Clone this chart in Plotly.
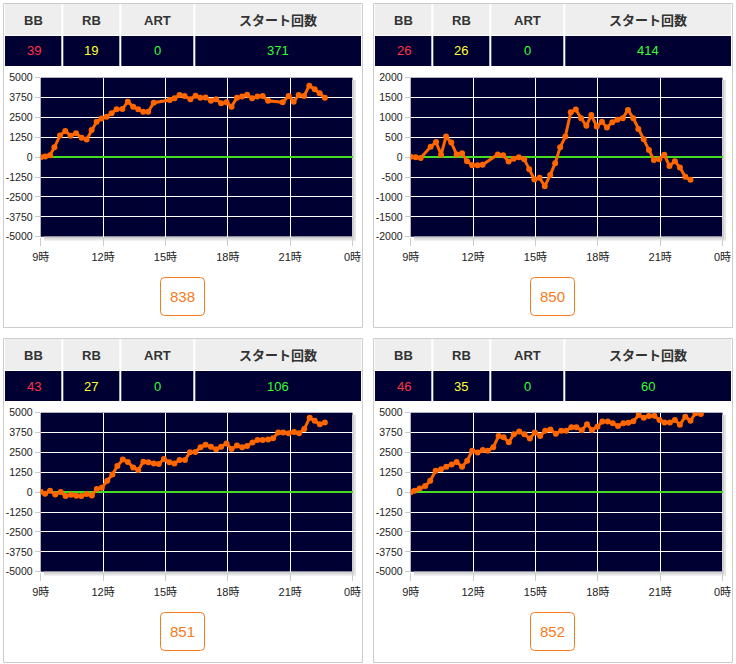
import plotly.graph_objects as go

W, H = 736, 664

# ---------------- data ----------------
header_labels = ["BB", "RB", "ART", "スタート回数"]
bb_counts = [39, 26, 43, 46]
rb_counts = [19, 26, 27, 35]
art_counts = [0, 0, 0, 0]
start_counts = [371, 414, 106, 60]
machine_numbers = [838, 850, 851, 852]

time_tick_vals = [9, 12, 15, 18, 21, 24]
time_tick_labels = ["9時", "12時", "15時", "18時", "21時", "0時"]
y_ticks_5000 = [5000, 3750, 2500, 1250, 0, -1250, -2500, -3750, -5000]
y_ticks_2000 = [2000, 1500, 1000, 500, 0, -500, -1000, -1500, -2000]

t_838 = [9.00, 9.21, 9.45, 9.66, 9.93, 10.18, 10.44, 10.70, 10.97, 11.21, 11.45, 11.69, 11.93,
         12.17, 12.41, 12.65, 12.93, 13.19, 13.45, 13.69, 13.93, 14.17, 14.44, 15.21, 15.44,
         15.68, 15.92, 16.20, 16.45, 16.68, 16.93, 17.19, 17.44, 17.68, 17.94, 18.18, 18.44,
         18.69, 18.93, 19.17, 19.43, 19.68, 19.94, 20.64, 20.93, 21.17, 21.41, 21.67, 21.92,
         22.18, 22.42, 22.67]
v_838 = [0, 50, 130, 620, 1370, 1650, 1350, 1500, 1230, 1120, 1710, 2230, 2440,
         2550, 2760, 3010, 3030, 3490, 3180, 3010, 2860, 2860, 3430, 3600, 3700,
         3910, 3850, 3640, 3870, 3740, 3760, 3550, 3640, 3390, 3450, 3180, 3740,
         3810, 3930, 3700, 3810, 3850, 3550, 3450, 3850, 3490, 3910, 3850, 4500,
         4270, 4020, 3740]

t_850 = [9.00, 9.24, 9.48, 9.96, 10.22, 10.46, 10.70, 10.95, 11.21, 11.47, 11.71, 11.96,
         12.22, 12.46, 13.19, 13.45, 13.71, 13.95, 14.20, 14.46, 14.70, 14.95, 15.20, 15.45,
         15.71, 15.95, 16.19, 16.44, 16.70, 16.94, 17.20, 17.45, 17.69, 17.95, 18.20, 18.44,
         18.70, 18.94, 19.20, 19.45, 19.71, 19.95, 20.21, 20.46, 20.70, 20.96, 21.20, 21.45,
         21.71, 21.95, 22.21, 22.46]
v_850 = [10, 0, -20, 260, 380, 60, 520, 370, 70, 100, -100, -200,
         -200, -190, 70, 50, -110, -40, 0, -50, -300, -560, -520, -730,
         -450, -150, 250, 520, 1130, 1200, 980, 790, 1060, 770, 890, 750,
         880, 940, 980, 1190, 980, 710, 450, 180, -70, -50, 60, -220,
         -100, -260, -490, -570]

t_851 = [9.00, 9.21, 9.45, 9.70, 9.96, 10.20, 10.46, 10.71, 10.95, 11.21, 11.46, 11.70, 11.94,
         12.20, 12.45, 12.69, 12.95, 13.19, 13.45, 13.69, 13.94, 14.18, 14.44, 14.68, 14.93,
         15.19, 15.43, 15.68, 15.94, 16.18, 16.44, 16.69, 16.93, 17.19, 17.44, 17.68, 17.94,
         18.18, 18.44, 18.69, 18.93, 19.19, 19.43, 19.68, 19.94, 20.18, 20.43, 20.67, 20.93,
         21.19, 21.43, 21.68, 21.94, 22.18, 22.43, 22.67]
v_851 = [30, -90, 90, -140, 10, -240, -160, -220, -240, -120, -200, 200, 280,
         720, 1120, 1650, 2050, 1900, 1560, 1390, 1920, 1880, 1810, 1770, 2090,
         1880, 1810, 2020, 2020, 2510, 2530, 2820, 2990, 2860, 2700, 2860, 3070,
         2720, 2930, 2820, 2910, 3120, 3280, 3280, 3320, 3390, 3760, 3760, 3700,
         3790, 3700, 3970, 4690, 4500, 4270, 4390]

t_852 = [9.00, 9.19, 9.43, 9.70, 9.94, 10.20, 10.46, 10.71, 10.97, 11.21, 11.47, 11.72, 11.96,
         12.22, 12.47, 12.71, 12.97, 13.23, 13.47, 13.72, 13.96, 14.22, 14.47, 14.73, 14.97,
         15.23, 15.47, 15.72, 15.98, 16.24, 16.48, 16.73, 16.97, 17.23, 17.48, 17.72, 17.98,
         18.22, 18.48, 18.72, 18.97, 19.23, 19.47, 19.71, 19.97, 20.21, 20.46, 20.72, 20.97,
         21.21, 21.47, 21.71, 21.95, 22.21, 22.46, 22.70, 22.96]
v_852 = [0, 90, 240, 390, 720, 1350, 1440, 1600, 1750, 1900, 1600, 1980, 2610,
         2490, 2650, 2610, 2820, 3530, 3450, 3140, 3640, 3810, 3640, 3370, 3760,
         3530, 3870, 3950, 3680, 3870, 3870, 4080, 4080, 3890, 4270, 3910, 4120,
         4440, 4440, 4330, 4160, 4330, 4370, 4460, 4850, 4690, 4790, 4810, 4540,
         4390, 4390, 4540, 4250, 4750, 4500, 4960, 4920]

series_times = [t_838, t_850, t_851, t_852]
series_values = [v_838, v_850, v_851, v_852]
y_tick_sets = [y_ticks_5000, y_ticks_2000, y_ticks_5000, y_ticks_5000]

# ---------------- styling ----------------
FONT = "Tahoma, Liberation Sans, Noto Sans CJK JP, sans-serif"
DARK = "#000033"
ORANGE = "#ff6600"
BTN = "#f77a1c"
offsets = [(0, 0), (370, 0), (0, 335), (370, 335)]


def px(x):
    return x / W


def py(y):
    return 1 - y / H


def rect(x0, y0, x1, y1, fill=None, line=None, lw=1):
    return dict(type="rect", xref="paper", yref="paper",
                x0=px(x0), x1=px(x1), y0=py(y1), y1=py(y0),
                fillcolor=fill if fill else "rgba(0,0,0,0)",
                line=dict(color=line if line else "rgba(0,0,0,0)", width=lw if line else 0),
                layer="below")


def rrect(x0, y0, x1, y1, r, color):
    pts = [
        f"M{px(x0 + r)},{py(y0)}", f"L{px(x1 - r)},{py(y0)}",
        f"Q{px(x1)},{py(y0)} {px(x1)},{py(y0 + r)}", f"L{px(x1)},{py(y1 - r)}",
        f"Q{px(x1)},{py(y1)} {px(x1 - r)},{py(y1)}", f"L{px(x0 + r)},{py(y1)}",
        f"Q{px(x0)},{py(y1)} {px(x0)},{py(y1 - r)}", f"L{px(x0)},{py(y0 + r)}",
        f"Q{px(x0)},{py(y0)} {px(x0 + r)},{py(y0)}", "Z",
    ]
    return dict(type="path", xref="paper", yref="paper", path=" ".join(pts),
                line=dict(color=color, width=1), fillcolor="rgba(0,0,0,0)", layer="below")


fig = go.Figure()
shapes = []
annotations = []
layout_axes = {}

col_edges = [5, 62.3, 120.3, 194.3, 361]

for i in range(4):
    ox, oy = offsets[i]
    # outer panel border
    shapes.append(rect(ox + 3.5, oy + 3.5, ox + 362.5, oy + 327.5, line="#cccccc"))
    # header rows
    shapes.append(rect(ox + 5, oy + 4, ox + 361, oy + 35, fill="#eeeeee"))
    shapes.append(rect(ox + 5, oy + 36, ox + 361, oy + 66, fill=DARK))
    for ce in col_edges[1:-1]:
        shapes.append(dict(type="line", xref="paper", yref="paper",
                           x0=px(ox + ce), x1=px(ox + ce), y0=py(oy + 4), y1=py(oy + 66),
                           line=dict(color="white", width=2), layer="below"))
    vals = [str(bb_counts[i]), str(rb_counts[i]), str(art_counts[i]), str(start_counts[i])]
    colors = ["#ff3344", "#ffff33", "#33ff33", "#33ff33"]
    for c in range(4):
        cx = ox + (col_edges[c] + col_edges[c + 1]) / 2
        annotations.append(dict(xref="paper", yref="paper", x=px(cx), y=py(oy + 20),
                                text=f"<b>{header_labels[c]}</b>", showarrow=False,
                                xanchor="center", yanchor="middle",
                                font=dict(family=FONT, size=13, color="#333333")))
        annotations.append(dict(xref="paper", yref="paper", x=px(cx), y=py(oy + 51),
                                text=vals[c], showarrow=False,
                                xanchor="center", yanchor="middle",
                                font=dict(family=FONT, size=13, color=colors[c])))
    # plot shadow
    shapes.append(rect(ox + 352, oy + 80, ox + 356, oy + 240.5, fill="#e4e4e4"))
    shapes.append(rect(ox + 44, oy + 236.7, ox + 356, oy + 240.5, fill="#e4e4e4"))
    shapes.append(rect(ox + 352, oy + 80, ox + 354, oy + 238.5, fill="#cfcfcf"))
    shapes.append(rect(ox + 44, oy + 236.7, ox + 354, oy + 238.5, fill="#cfcfcf"))
    # button
    shapes.append(rrect(ox + 160.5, oy + 277.5, ox + 204.5, oy + 315.5, 4, BTN))
    annotations.append(dict(xref="paper", yref="paper", x=px(ox + 182.5), y=py(oy + 296.5),
                            text=str(machine_numbers[i]), showarrow=False,
                            xanchor="center", yanchor="middle",
                            font=dict(family=FONT, size=15, color=BTN)))

    ax = "" if i == 0 else str(i + 1)
    yt = y_tick_sets[i]
    ymax = max(yt)
    layout_axes["xaxis" + ax] = dict(
        domain=[px(ox + 40.7), px(ox + 352.5)], range=[9, 24],
        tickvals=time_tick_vals, ticktext=time_tick_labels,
        showgrid=True, gridcolor="white", gridwidth=1, zeroline=False,
        ticks="outside", ticklen=8, tickcolor="#cccccc", ticklabelstandoff=2,
        tickfont=dict(family=FONT, size=11, color="#222222"),
        anchor="y" + ax, fixedrange=True, showline=False, automargin=False)
    layout_axes["yaxis" + ax] = dict(
        domain=[py(oy + 236.7), py(oy + 77.7)], range=[-ymax, ymax],
        tickvals=yt, ticktext=[str(v) for v in yt],
        showgrid=True, gridcolor="white", gridwidth=1,
        zeroline=True, zerolinecolor="#44dd22", zerolinewidth=2,
        ticks="outside", ticklen=5, tickcolor="#cccccc",
        tickfont=dict(family=FONT, size=10.5, color="#222222"),
        anchor="x" + ax, fixedrange=True, showline=False, automargin=False)

    fig.add_trace(go.Scatter(
        x=series_times[i], y=series_values[i], mode="lines+markers",
        line=dict(color=ORANGE, width=3), marker=dict(color=ORANGE, size=6),
        xaxis="x" + ax, yaxis="y" + ax, showlegend=False, hoverinfo="x+y"))

fig.update_layout(
    template="none",
    width=W, height=H, autosize=False,
    margin=dict(l=0, r=0, t=0, b=0, pad=0),
    paper_bgcolor="white", plot_bgcolor=DARK,
    shapes=shapes, annotations=annotations, showlegend=False,
    **layout_axes)

fig.write_html(
    "out.html",
    config={"displayModeBar": False},
    post_script="document.body.style.margin='0';document.body.style.overflow='hidden';",
)
